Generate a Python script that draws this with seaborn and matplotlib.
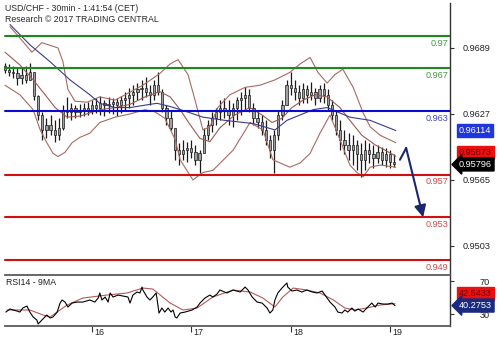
import numpy as np
import pandas as pd
import matplotlib
matplotlib.use("Agg")
import matplotlib.pyplot as plt
import matplotlib.transforms as mtrans
import seaborn as sns

sns.set_style("white")
plt.rcParams['font.family'] = ['Liberation Sans', 'DejaVu Sans']

# ---------------- data ----------------
# time axis: hours since 15th 00:00, one bar per hour from 03:00 on the 15th
first_hour = 3
first_open = 0.9672
bar_highs = [0.9675, 0.9674, 0.9672, 0.9671, 0.9670, 0.9672, 0.9675, 0.9666, 0.9645, 0.9629,
             0.9623, 0.9626, 0.9621, 0.9623, 0.9635, 0.9643, 0.9637, 0.9635, 0.9636, 0.9637,
             0.9638, 0.9640, 0.9642, 0.9644, 0.9640, 0.9643, 0.9642, 0.9642, 0.9644, 0.9648,
             0.9651, 0.9654, 0.9656, 0.9659, 0.9662, 0.9654, 0.9659, 0.9666, 0.9650, 0.9635,
             0.9631, 0.9614, 0.9600, 0.9603, 0.9601, 0.9603, 0.9598, 0.9593, 0.9614, 0.9621,
             0.9629, 0.9633, 0.9640, 0.9642, 0.9640, 0.9637, 0.9643, 0.9648, 0.9652, 0.9650,
             0.9637, 0.9631, 0.9626, 0.9621, 0.9607, 0.9612, 0.9631, 0.9640, 0.9659, 0.9666,
             0.9659, 0.9654, 0.9656, 0.9654, 0.9657, 0.9651, 0.9654, 0.9656, 0.9650, 0.9640,
             0.9631, 0.9621, 0.9612, 0.9609, 0.9607, 0.9603, 0.9600, 0.9603, 0.9600, 0.9598,
             0.9598, 0.9596, 0.9595, 0.9593, 0.9589]
bar_lows = [0.9665, 0.9663, 0.9661, 0.9654, 0.9655, 0.9656, 0.9659, 0.9640, 0.9621, 0.9603,
            0.9604, 0.9607, 0.9601, 0.9603, 0.9612, 0.9623, 0.9621, 0.9623, 0.9624, 0.9625,
            0.9626, 0.9627, 0.9628, 0.9626, 0.9625, 0.9628, 0.9627, 0.9625, 0.9628, 0.9631,
            0.9633, 0.9635, 0.9640, 0.9640, 0.9643, 0.9635, 0.9640, 0.9645, 0.9629, 0.9617,
            0.9612, 0.9584, 0.9579, 0.9584, 0.9582, 0.9586, 0.9579, 0.9572, 0.9590, 0.9603,
            0.9610, 0.9617, 0.9621, 0.9623, 0.9617, 0.9615, 0.9621, 0.9626, 0.9631, 0.9629,
            0.9617, 0.9614, 0.9607, 0.9598, 0.9586, 0.9572, 0.9603, 0.9621, 0.9635, 0.9645,
            0.9640, 0.9635, 0.9637, 0.9637, 0.9640, 0.9635, 0.9638, 0.9637, 0.9631, 0.9621,
            0.9607, 0.9593, 0.9589, 0.9584, 0.9579, 0.9574, 0.9568, 0.9574, 0.9581, 0.9576,
            0.9581, 0.9579, 0.9577, 0.9576, 0.9577]
bar_closes = [0.9668, 0.9666, 0.9665, 0.9661, 0.9664, 0.9659, 0.9666, 0.9644, 0.9626, 0.9612,
              0.9617, 0.9612, 0.9607, 0.9614, 0.9631, 0.9629, 0.9633, 0.9629, 0.9631, 0.9633,
              0.9631, 0.9635, 0.9633, 0.9637, 0.9635, 0.9636, 0.9638, 0.9635, 0.9640, 0.9642,
              0.9645, 0.9648, 0.9650, 0.9651, 0.9648, 0.9645, 0.9654, 0.9648, 0.9633, 0.9623,
              0.9614, 0.9593, 0.9589, 0.9593, 0.9595, 0.9591, 0.9584, 0.9590, 0.9607, 0.9617,
              0.9623, 0.9629, 0.9633, 0.9631, 0.9626, 0.9633, 0.9640, 0.9642, 0.9645, 0.9633,
              0.9623, 0.9619, 0.9612, 0.9603, 0.9593, 0.9607, 0.9626, 0.9635, 0.9654, 0.9651,
              0.9648, 0.9642, 0.9650, 0.9645, 0.9648, 0.9642, 0.9650, 0.9645, 0.9635, 0.9626,
              0.9612, 0.9603, 0.9598, 0.9593, 0.9598, 0.9589, 0.9584, 0.9593, 0.9589, 0.9586,
              0.9591, 0.9584, 0.9589, 0.9582, 0.95796]

upper_hours = [4.2, 7.1, 9.5, 11.9, 15.8, 17.0, 18.2, 19.9, 22.8, 25.9, 29.6, 32.0, 36.3, 40.4,
               42.9, 44.8, 47.2, 48.9, 50.8, 52.5, 54.4, 57.3, 61.0, 64.6, 68.2, 71.8, 74.3,
               76.7, 78.6, 80.8, 82.7, 84.6, 87.1, 89.5, 91.2, 93.6, 97.4]
upper_band = [0.9709, 0.9696, 0.9685, 0.9694, 0.9689, 0.9676, 0.9650, 0.9639, 0.9638, 0.9643,
              0.9640, 0.9645, 0.9654, 0.9665, 0.9674, 0.9678, 0.9664, 0.9640, 0.9612, 0.9615,
              0.9633, 0.9645, 0.9652, 0.9654, 0.9659, 0.9666, 0.9674, 0.9680, 0.9666, 0.9656,
              0.9664, 0.9669, 0.9652, 0.9628, 0.9615, 0.9607, 0.9600]
mid_hours = [3.0, 6.6, 9.8, 12.7, 15.1, 18.0, 21.1, 25.9, 29.6, 33.2, 36.8, 40.4, 42.9, 45.3,
             47.7, 50.1, 52.5, 54.9, 58.5, 62.2, 65.1, 67.5, 69.9, 72.3, 75.0, 77.9, 80.8,
             83.9, 86.3, 89.2, 92.4, 94.8, 97.4]
mid_band = [0.9685, 0.9673, 0.9659, 0.9645, 0.9633, 0.9624, 0.9625, 0.9631, 0.9633, 0.9636,
            0.9643, 0.9648, 0.9643, 0.9631, 0.9617, 0.9604, 0.9601, 0.9614, 0.9626, 0.9633,
            0.9626, 0.9619, 0.9623, 0.9633, 0.9640, 0.9645, 0.9643, 0.9633, 0.9621, 0.9607,
            0.9598, 0.9593, 0.95873]
lower_hours = [3.0, 6.6, 9.8, 11.5, 13.1, 14.6, 15.8, 17.5, 19.2, 21.1, 23.5, 25.9, 29.6, 33.2,
               36.8, 39.2, 41.6, 44.1, 45.3, 48.4, 50.8, 53.2, 58.1, 62.2, 65.3, 67.7, 71.8,
               74.3, 76.7, 79.1, 81.5, 83.9, 86.3, 88.0, 89.5, 91.2, 93.6, 97.4]
lower_band = [0.9654, 0.9645, 0.9631, 0.9612, 0.9600, 0.9590, 0.9587, 0.9591, 0.9600, 0.9605,
              0.9609, 0.9619, 0.9624, 0.9627, 0.9631, 0.9629, 0.9623, 0.9603, 0.9584, 0.9565,
              0.9572, 0.9574, 0.9593, 0.9619, 0.9612, 0.9584, 0.9577, 0.9581, 0.9590, 0.9609,
              0.9626, 0.9603, 0.9579, 0.9572, 0.9568, 0.9577, 0.9579, 0.9577]
ma_hours = [4.2, 9.0, 13.9, 18.7, 23.5, 25.9, 29.6, 33.2, 38.0, 39.7, 42.9, 47.0, 50.8, 56.1,
            62.9, 68.2, 71.1, 77.4, 80.8, 86.3, 91.2, 97.4]
ma_line = [0.9711, 0.9692, 0.9676, 0.9659, 0.9645, 0.9637, 0.9633, 0.9633, 0.9636, 0.9637,
           0.9634, 0.9629, 0.9624, 0.9621, 0.9618, 0.9612, 0.9621, 0.9631, 0.9633, 0.9624,
           0.9621, 0.96114]

rsi_hours = [3.2, 4.2, 5.9, 6.6, 7.3, 8.3, 9.0, 9.8, 10.7, 11.0,
             11.9, 13.1, 13.9, 14.6, 15.6, 16.3, 16.8, 17.5, 18.2, 19.2,
             20.4, 21.8, 23.5, 24.7, 25.5, 25.9, 26.4, 27.2, 27.9, 28.4,
             29.1, 30.3, 31.5, 32.7, 33.2, 33.9, 34.9, 35.6, 36.1, 36.3,
             37.3, 38.0, 38.7, 39.5, 39.7, 40.2, 40.9, 41.6, 42.4, 43.1,
             43.6, 44.1, 44.5, 45.3, 46.5, 48.2, 49.4, 50.1, 51.3, 52.5,
             53.2, 54.2, 54.9, 56.6, 58.1, 59.8, 61.0, 61.7, 62.7, 63.9,
             65.1, 66.3, 67.0, 67.7, 68.2, 68.9, 69.9, 70.6, 71.1, 71.3,
             72.3, 73.5, 74.7, 75.9, 77.2, 78.4, 79.6, 80.3, 81.5, 82.7,
             83.4, 84.4, 85.1, 85.8, 86.8, 87.5, 88.3, 89.5, 90.4, 91.6,
             92.4, 93.1, 94.3, 95.5, 96.5, 97.2]
rsi_vals = [32.4, 36.1, 33.6, 32.4, 37.3, 39.7, 32.4, 26.4, 22.7, 17.9,
            22.7, 28.8, 25.2, 26.4, 32.4, 43.3, 47.0, 44.5, 38.5, 43.3,
            44.5, 44.5, 47.0, 44.5, 49.4, 55.5, 47.0, 50.6, 44.5, 55.5,
            50.6, 53.0, 51.8, 50.6, 43.3, 53.0, 56.7, 55.5, 62.7, 59.1,
            50.6, 47.0, 50.6, 55.5, 49.4, 31.2, 37.3, 32.4, 37.3, 32.4,
            34.9, 26.4, 25.2, 31.2, 32.4, 34.9, 38.5, 43.3, 49.4, 53.0,
            50.6, 54.2, 59.1, 55.5, 59.1, 56.7, 62.7, 59.1, 50.6, 44.5,
            43.3, 37.3, 31.2, 34.9, 47.0, 55.5, 61.5, 65.2, 67.6, 62.7,
            57.9, 59.1, 56.7, 59.1, 56.7, 55.5, 57.9, 53.0, 44.5, 38.5,
            32.4, 31.2, 34.9, 32.4, 37.3, 33.6, 36.1, 32.4, 37.3, 43.3,
            38.5, 43.3, 42.1, 42.1, 43.3, 40.2753]
rsima_hours = [3.5, 9.0, 12.2, 13.9, 18.0, 21.8, 27.6, 32.5, 36.3, 38.7, 42.9, 46.0, 49.4, 53.2,
               58.1, 62.2, 65.3, 68.2, 70.1, 72.6, 75.9, 79.1, 82.3, 85.1, 87.5, 90.4, 93.6, 97.2]
rsima_vals = [34.9, 34.9, 28.8, 26.4, 40.9, 49.4, 53.0, 55.5, 61.5, 60.3, 43.3, 34.9, 37.3, 50.6,
              59.1, 56.7, 49.4, 38.5, 50.6, 61.5, 59.1, 55.5, 47.0, 37.3, 34.9, 37.3, 40.9, 42.54]

level_values = [0.970, 0.967, 0.963, 0.957, 0.953, 0.949]
level_labels = ["0.97", "0.967", "0.963", "0.957", "0.953", "0.949"]
level_kinds = ["res", "res", "pivot", "sup", "sup", "sup"]

forecast_hours = [98.4, 99.9, 104.0]
forecast_prices = [0.9584, 0.9595, 0.9530]

price_ticks = [0.9689, 0.9627, 0.9565, 0.9503]
price_tick_labels = ["0.9689", "0.9627", "0.9565", "0.9503"]
rsi_ticks = [70, 30]
rsi_tick_labels = ["70", "30"]
day_hours = [24, 48, 72, 96]
day_labels = ["16", "17", "18", "19"]

tag_ma, tag_mid, tag_last = 0.96114, 0.95873, 0.95796
tag_rsima, tag_rsi = 42.5433, 40.2753

# ---------------- layout ----------------
W, H = 499, 343
fig = plt.figure(figsize=(W / 100, H / 100), dpi=100)
fig.patch.set_facecolor('white')


def box(x0, y0, x1, y1):
    return [x0 / W, 1 - y1 / H, (x1 - x0) / W, (y1 - y0) / H]


ax = fig.add_axes(box(0, 3, 450, 274))
rx = fig.add_axes(box(5, 275, 450, 326))

hours = np.arange(first_hour, first_hour + len(bar_closes))
opens = [first_open] + bar_closes[:-1]
df = pd.DataFrame({'hour': hours, 'open': opens, 'high': bar_highs,
                   'low': bar_lows, 'close': bar_closes})

# levels
col_line = {'res': '#1e8a1e', 'pivot': '#0a0ad0', 'sup': '#d01010'}
col_text = {'res': '#3f9a3f', 'pivot': '#4646c8', 'sup': '#cc4a4a'}
for v, lab, k in zip(level_values, level_labels, level_kinds):
    ax.axhline(v, xmin=5 / 450, xmax=1, color=col_line[k], lw=1.5, zorder=4)
    ax.annotate(lab, xy=(1, v), xycoords=('axes fraction', 'data'),
                xytext=(-1.2, -2.0), textcoords='offset points', ha='right', va='top',
                fontsize=6.6, color=col_text[k], zorder=6)

# candles
ax.vlines(df['hour'], df['low'], df['high'], color='#1a1a1a', lw=0.9, zorder=2)
ax.bar(df['hour'], df['close'] - df['open'], bottom=df['open'], width=0.55,
       color='#a0a0a0', edgecolor='#1a1a1a', lw=0.5, zorder=2.2)

# bands & MA
band_col = '#a86a62'
sns.lineplot(x=upper_hours, y=upper_band, ax=ax, color=band_col, lw=0.8, sort=False, estimator=None, zorder=3)
sns.lineplot(x=mid_hours, y=mid_band, ax=ax, color='#9a5a54', lw=0.8, sort=False, estimator=None, zorder=3)
sns.lineplot(x=lower_hours, y=lower_band, ax=ax, color=band_col, lw=0.8, sort=False, estimator=None, zorder=3)
sns.lineplot(x=ma_hours, y=ma_line, ax=ax, color='#3a3a8e', lw=0.8, sort=False, estimator=None, zorder=3)

# forecast arrow
arrow_col = '#1c2670'
ax.plot(forecast_hours[:2], forecast_prices[:2], color=arrow_col, lw=1.5, zorder=5)
ax.annotate('', xy=(forecast_hours[2], forecast_prices[2]),
            xytext=(forecast_hours[1], forecast_prices[1]),
            arrowprops=dict(arrowstyle='-|>,head_length=0.7,head_width=0.35',
                            color=arrow_col, lw=1.5, shrinkA=0, shrinkB=0), zorder=5)

ax.set_xlim(1.79, 110.49)
ax.set_ylim(0.94767, 0.97312)
ax.set_xticks([])
ax.yaxis.tick_right()
ax.set_yticks(price_ticks)
ax.set_yticklabels(price_tick_labels)
ax.tick_params(axis='y', direction='out', length=3, width=0.8, color='#333333',
               labelsize=6.6, pad=26, labelcolor='#222222')
for lab in ax.get_yticklabels():
    lab.set_horizontalalignment('right')
for s in ['left', 'top', 'bottom']:
    ax.spines[s].set_visible(False)
ax.spines['right'].set_color('#333333')
ax.spines['right'].set_linewidth(1.0)
ax.set_xlabel('')
ax.set_ylabel('')

# price tags
tag_kw = dict(xycoords=('axes fraction', 'data'), textcoords='offset points',
              ha='left', va='center', fontsize=6.6, annotation_clip=False, zorder=10)
ax.annotate(f"{tag_ma:.5f}", xy=(1, tag_ma), xytext=(6.5, 0), color='white',
            bbox=dict(boxstyle='square,pad=0.22', fc='#1f35e0', ec='#1f35e0'), **tag_kw)
ax.annotate(f"{tag_mid:.5f}", xy=(1, tag_mid), xytext=(6.5, 2.5), color='#7a0000',
            bbox=dict(boxstyle='square,pad=0.22', fc='#e81010', ec='#e81010'), **tag_kw)
ax.annotate(f"{tag_last:.5f}", xy=(1, tag_last), xytext=(6.5, 0), color='white',
            bbox=dict(boxstyle='larrow,pad=0.22', fc='black', ec='black'), **tag_kw)

# ---------------- RSI panel ----------------
sns.lineplot(x=rsi_hours, y=rsi_vals, ax=rx, color='black', lw=0.8, sort=False, estimator=None, zorder=3)
sns.lineplot(x=rsima_hours, y=rsima_vals, ax=rx, color='#b45a5a', lw=0.8, sort=False, estimator=None, zorder=2)
rx.set_xlim(3.0, 110.49)
rx.set_ylim(15.5, 77.3)
rx.yaxis.tick_right()
rx.set_yticks(rsi_ticks)
rx.set_yticklabels(rsi_tick_labels)
rx.tick_params(axis='y', direction='out', length=3, width=0.8, color='#333333',
               labelsize=6.6, pad=26, labelcolor='#222222')
for lab in rx.get_yticklabels():
    lab.set_horizontalalignment('right')
rx.set_xticks(day_hours)
rx.set_xticklabels(day_labels)
rx.tick_params(axis='x', direction='out', length=4, width=0.8, color='#333333',
               labelsize=6.4, pad=-2.6, labelcolor='#222222', bottom=True)
shift = mtrans.ScaledTranslation(2.5 / 100, 0, fig.dpi_scale_trans)
for lab in rx.get_xticklabels():
    lab.set_horizontalalignment('left')
    lab.set_transform(lab.get_transform() + shift)
rx.spines['left'].set_visible(False)
for s in ['top', 'bottom']:
    rx.spines[s].set_color('#5a5a5a')
    rx.spines[s].set_linewidth(1.3)
rx.spines['right'].set_color('#333333')
rx.spines['right'].set_linewidth(1.0)
rx.set_xlabel('')
rx.set_ylabel('')
rx.annotate("RSI14 - 9MA", xy=(0, 1), xycoords='axes fraction', xytext=(0.5, -2.0),
            textcoords='offset points', ha='left', va='top', fontsize=6.3, color='#222222')

rx.annotate(f"{tag_rsima:.4f}", xy=(1, tag_rsima), xytext=(6.5, 7.5), color='#7a0000',
            bbox=dict(boxstyle='square,pad=0.22', fc='#e81010', ec='#e81010'), **tag_kw)
rx.annotate(f"{tag_rsi:.4f}", xy=(1, tag_rsi), xytext=(6.5, 0), color='white',
            bbox=dict(boxstyle='larrow,pad=0.22', fc='#1a2a80', ec='#1a2a80'), **tag_kw)

# header texts
fig.text(5 / W, 1 - 4 / H, "USD/CHF - 30min - 1:41:54 (CET)", ha='left', va='top',
         fontsize=6.3, color='#2a2a2a')
fig.text(5 / W, 1 - 14.5 / H, "Research \u00a9 2017 TRADING CENTRAL", ha='left', va='top',
         fontsize=6.3, color='#2a2a2a')

fig.savefig("out.png", dpi=100, facecolor='white')
